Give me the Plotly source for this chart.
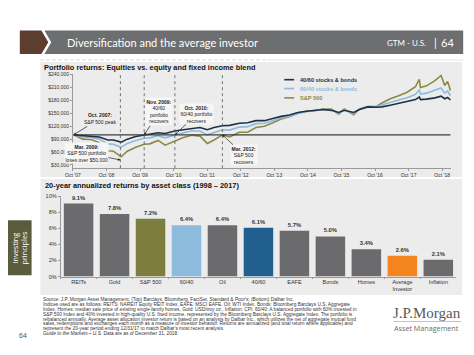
import plotly.graph_objects as go

W, H = 474, 355

# ---------------- Top chart data (values in $ thousands) ----------------
dates = ["2007-10-09", "2008-01-15", "2008-04-15", "2008-07-15", "2008-10-15", "2008-12-15",
         "2009-03-09", "2009-05-15", "2009-08-15", "2009-11-15", "2010-01-15", "2010-04-15",
         "2010-07-01", "2010-10-15", "2011-01-15", "2011-04-15", "2011-07-15", "2011-10-03",
         "2011-12-15", "2012-03-15", "2012-06-01", "2012-09-15", "2012-12-15", "2013-03-15",
         "2013-06-15", "2013-09-15", "2013-12-15", "2014-03-15", "2014-06-15", "2014-09-15",
         "2014-12-15", "2015-03-15", "2015-06-15", "2015-09-01", "2015-11-01", "2016-02-11",
         "2016-04-15", "2016-07-15", "2016-10-15", "2016-12-15", "2017-03-15", "2017-06-15",
         "2017-09-15", "2017-12-15", "2018-01-26", "2018-02-08", "2018-04-15", "2018-07-15",
         "2018-09-20", "2018-10-29", "2018-11-30", "2018-12-31"]
sp500 = [100, 90, 89, 82, 63, 62, 49, 62, 71, 78, 79, 87,
         76, 86, 94, 99, 97, 80, 88, 100, 95, 106, 106, 117,
         120, 128, 137, 142, 150, 155, 156, 160, 160, 148, 160, 147,
         160, 166, 166, 174, 184, 191, 199, 212, 229, 210, 214, 226,
         238, 215, 224, 203]
blend_60_40 = [100, 95, 94, 90, 79, 78, 71, 80, 87, 92, 93, 98,
               93, 100, 105, 109, 109, 100, 106, 112, 111, 118, 119, 126,
               127, 133, 139, 143, 150, 154, 156, 159, 158, 150, 158, 150,
               160, 166, 166, 170, 176, 181, 186, 194, 205, 195, 197, 203,
               209, 197, 202, 191]
blend_40_60 = [100, 98, 97, 95, 88, 88, 83, 90, 96, 100, 101, 105,
               103, 109, 112, 115, 117, 112, 117, 121, 122, 127, 128, 133,
               133, 138, 143, 146, 152, 155, 157, 159, 157, 152, 157, 152,
               159, 165, 164, 165, 169, 173, 177, 182, 188, 182, 183, 186,
               190, 184, 187, 181]
baseline_value = 100
x_tick_dates = ["2007-10-01", "2008-10-01", "2009-10-01", "2010-10-01", "2011-10-01", "2012-10-01",
                "2013-10-01", "2014-10-01", "2015-10-01", "2016-10-01", "2017-10-01", "2018-10-01"]
x_tick_labels = ["Oct '07", "Oct '08", "Oct '09", "Oct '10", "Oct '11", "Oct '12",
                 "Oct '13", "Oct '14", "Oct '15", "Oct '16", "Oct '17", "Oct '18"]
event_dates = ["2009-03-01", "2009-11-15", "2010-10-15", "2012-03-15"]
series_names = ["40/60 stocks & bonds", "60/40 stocks & bonds", "S&P 500"]

# ---------------- Bottom chart data ----------------
asset_classes = ["REITs", "Gold", "S&P 500", "60/40", "Oil", "40/60", "EAFE", "Bonds",
                 "Homes", "Average<br>Investor", "Inflation"]
annual_returns = [9.1, 7.8, 7.2, 6.4, 6.4, 6.1, 5.7, 5.0, 3.4, 2.6, 2.1]

GRAY = "#6b6b6d"
OLIVE = "#8a8a45"
OLIVE_BAR = "#7d7d3e"
LIGHT_BLUE = "#8dbbdd"
NAVY = "#1f2f48"
BLUE_BAR = "#215f8f"
ORANGE = "#f5861f"
bar_colors = [GRAY, GRAY, OLIVE_BAR, LIGHT_BLUE, GRAY, BLUE_BAR, GRAY, GRAY, GRAY, ORANGE, GRAY]

FONT = "Arial, Liberation Sans, sans-serif"
TXT = "#333333"


def px(x):
    return x / W


def py(y):
    return 1 - y / H


fig = go.Figure()

# lines
for vals, col in [(sp500, OLIVE), (blend_60_40, LIGHT_BLUE), (blend_40_60, NAVY)]:
    fig.add_trace(go.Scatter(x=dates, y=vals, mode="lines", line=dict(color=col, width=1.6),
                             xaxis="x", yaxis="y", showlegend=False, hoverinfo="skip"))
fig.add_trace(go.Scatter(x=[dates[0], dates[-1]], y=[baseline_value, baseline_value], mode="lines",
                         line=dict(color="#3a3a3a", width=1.2), xaxis="x", yaxis="y",
                         showlegend=False, hoverinfo="skip"))

# bars
fig.add_trace(go.Bar(x=asset_classes, y=annual_returns, marker=dict(color=bar_colors, line=dict(width=0)),
                     texttemplate="<b>%{y:.1f}%</b>", textposition="outside",
                     textfont=dict(size=5.8, color=TXT, family=FONT), cliponaxis=False,
                     xaxis="x2", yaxis="y2", showlegend=False, hoverinfo="skip"))

shapes = []
# header
shapes.append(dict(type="path", xref="paper", yref="paper",
                   path=f"M{px(12)},{py(28)} L{px(34)},{py(28)} L{px(41)},{py(40)} L{px(34)},{py(52)} L{px(12)},{py(52)} Z",
                   fillcolor="#5c3d2e", line=dict(width=0)))
shapes.append(dict(type="path", xref="paper", yref="paper",
                   path=f"M{px(37)},{py(28)} L{px(463)},{py(28)} L{px(463)},{py(52)} L{px(37)},{py(52)} L{px(44)},{py(40)} Z",
                   fillcolor="#6d6e70", line=dict(width=0)))
shapes.append(dict(type="line", xref="paper", yref="paper", x0=px(33), x1=px(263), y0=py(58), y1=py(58),
                   line=dict(color="#cfcfcf", width=1.2, dash="dot")))
shapes.append(dict(type="line", xref="paper", yref="paper", x0=px(263), x1=px(463), y0=py(58), y1=py(58),
                   line=dict(color="#e6e6e6", width=1.2)))
# panels
shapes.append(dict(type="rect", xref="paper", yref="paper", x0=px(33), x1=px(462), y0=py(177), y1=py(60),
                   fillcolor="#ececec", line=dict(width=0), layer="below"))
shapes.append(dict(type="rect", xref="paper", yref="paper", x0=px(33), x1=px(462), y0=py(297), y1=py(179),
                   fillcolor="#ececec", line=dict(width=0), layer="below"))
# sidebar
shapes.append(dict(type="rect", xref="paper", yref="paper", x0=0, x1=px(24), y0=py(277), y1=py(221),
                   fillcolor="#5b5c3d", line=dict(width=0)))
# event lines
for d in event_dates:
    shapes.append(dict(type="line", xref="x", yref="y domain", x0=d, x1=d, y0=0, y1=1,
                       line=dict(color="#555555", width=0.8, dash="dot")))
# legend keys
leg_y = [78, 87, 96.5]
for yy, col in zip(leg_y, [NAVY, LIGHT_BLUE, OLIVE]):
    shapes.append(dict(type="line", xref="paper", yref="paper", x0=px(281), x1=px(291), y0=py(yy), y1=py(yy),
                       line=dict(color=col, width=1.6)))
# logo separator
shapes.append(dict(type="line", xref="paper", yref="paper", x0=px(392), x1=px(461), y0=py(324), y1=py(324),
                   line=dict(color="#9a9a9a", width=0.6)))

ann = []
ann.append(dict(x=px(58), y=py(40), xref="paper", yref="paper", xanchor="left", yanchor="middle", showarrow=False,
                text="Diversification and the average investor", font=dict(family="Lato, Open Sans, sans-serif", size=11, color="white")))
ann.append(dict(x=px(427), y=py(40.5), xref="paper", yref="paper", xanchor="right", yanchor="middle", showarrow=False,
                text="GTM - U.S.", font=dict(family="Lato, Open Sans, sans-serif", size=8, color="white")))
ann.append(dict(x=px(435), y=py(40), xref="paper", yref="paper", xanchor="center", yanchor="middle", showarrow=False,
                text="|", font=dict(family="Lato, Open Sans, sans-serif", size=11, color="white")))
ann.append(dict(x=px(456), y=py(40), xref="paper", yref="paper", xanchor="right", yanchor="middle", showarrow=False,
                text="64", font=dict(family="Lato, Open Sans, sans-serif", size=11, color="white")))
# panel titles
ann.append(dict(x=px(35), y=py(65.5), xref="paper", yref="paper", xanchor="left", yanchor="middle", showarrow=False,
                text="<b>Portfolio returns: Equities vs. equity and fixed income blend</b>",
                font=dict(family=FONT, size=7.4, color="#111111")))
ann.append(dict(x=px(36), y=py(186), xref="paper", yref="paper", xanchor="left", yanchor="middle", showarrow=False,
                text="<b>20-year annualized returns by asset class (1998 – 2017)</b>",
                font=dict(family=FONT, size=7.4, color="#111111")))
# legend texts
for yy, col, name in zip(leg_y, [NAVY, LIGHT_BLUE, OLIVE], series_names):
    ann.append(dict(x=px(295), y=py(yy), xref="paper", yref="paper", xanchor="left", yanchor="middle", showarrow=False,
                    text=f"<b>{name}</b>", font=dict(family=FONT, size=5.6, color=col)))

# chart call-outs
callouts = [
    ("2007-10-09", baseline_value, 26.5, -16.5, "<b>Oct. 2007:</b><br>S&P 500 peak", None),
    ("2009-03-01", 41.5, -34, -7, "<b>Mar. 2009:</b><br>S&P 500 portfolio<br>loses over $50,000", "#f6f6f6"),
    ("2009-11-15", baseline_value, 15, -23, "<b>Nov. 2009:</b><br>40/60<br>portfolio<br>recovers", "#f6f6f6"),
    ("2010-10-15", baseline_value, 22, -21, "<b>Oct. 2010:</b><br>60/40 portfolio<br>recovers", "#f6f6f6"),
    ("2012-03-15", baseline_value, 22, 20.5, "<b>Mar. 2012:</b><br>S&P 500<br>recovers", "#f6f6f6"),
]
for xd, yv, axp, ayp, t, bg in callouts:
    d = dict(x=xd, y=yv, xref="x", yref="y", ax=axp, ay=ayp, text=t, showarrow=True,
             arrowhead=2, arrowsize=0.7, arrowwidth=0.7, arrowcolor="#222222", standoff=0,
             font=dict(family=FONT, size=5, color="#222222"), align="center")
    if bg:
        d["bgcolor"] = bg
        d["borderpad"] = 0.5
    ann.append(d)

# footnotes
foot = [
    "Source: J.P. Morgan Asset Management; (Top) Barclays, Bloomberg, FactSet, Standard & Poor's; (Bottom) Dalbar Inc.",
    "Indices used are as follows: REITS: NAREIT Equity REIT Index, EAFE: MSCI EAFE, Oil: WTI Index, Bonds: Bloomberg Barclays U.S. Aggregate",
    "Index, Homes: median sale price of existing single-family homes, Gold: USD/troy oz., Inflation: CPI. 60/40: A balanced portfolio with 60% invested in",
    "S&P 500 Index and 40% invested in high-quality U.S. fixed income, represented by the Bloomberg Barclays U.S. Aggregate Index. The portfolio is",
    "rebalanced annually. Average asset allocation investor return is based on an analysis by Dalbar Inc., which utilizes the net of aggregate mutual fund",
    "sales, redemptions and exchanges each month as a measure of investor behavior. Returns are annualized (and total return where applicable) and",
    "represent the 20-year period ending 12/31/17 to match Dalbar's most recent analysis.",
    "<i>Guide to the Markets – U.S.</i> Data are as of December 31, 2018.",
]
for i, line in enumerate(foot):
    ann.append(dict(x=px(33.5), y=py(302 + i * 4.9), xref="paper", yref="paper", xanchor="left", yanchor="middle",
                    showarrow=False, text=line, font=dict(family=FONT, size=4.8, color="#333333")))
ann.append(dict(x=px(15), y=py(338), xref="paper", yref="paper", xanchor="center", yanchor="middle", showarrow=False,
                text="64", font=dict(family=FONT, size=7, color="#555555")))
ann.append(dict(x=px(426), y=py(315), xref="paper", yref="paper", xanchor="center", yanchor="middle", showarrow=False,
                text="J.P.Morgan", font=dict(family="Liberation Serif, DejaVu Serif, serif", size=15, color="#5a5a5a")))
ann.append(dict(x=px(426), y=py(331), xref="paper", yref="paper", xanchor="center", yanchor="middle", showarrow=False,
                text="Asset Management", font=dict(family="Open Sans, Lato, sans-serif", size=7.2, color="#6a6a6a")))
ann.append(dict(x=px(12), y=py(249), xref="paper", yref="paper", xanchor="center", yanchor="middle", showarrow=False,
                text="Investing<br>principles", textangle=-90,
                font=dict(family="Open Sans, Lato, sans-serif", size=7.3, color="white")))

axis_common = dict(showgrid=False, zeroline=False, showline=True, linecolor="#9a9a9a", linewidth=0.8,
                   ticks="outside", ticklen=2, tickwidth=0.6, tickcolor="#9a9a9a")

fig.update_layout(
    width=W, height=H, margin=dict(l=0, r=0, t=0, b=0),
    paper_bgcolor="white", plot_bgcolor="rgba(0,0,0,0)",
    font=dict(family=FONT, color=TXT),
    bargap=0.18,
    xaxis=dict(domain=[px(66), px(451)], anchor="y", type="date", range=["2007-10-01", "2019-01-10"],
               tickvals=x_tick_dates, ticktext=x_tick_labels, tickfont=dict(size=5, color=TXT), **axis_common),
    yaxis=dict(domain=[py(168), py(72)], anchor="x", range=[22.5, 242], tick0=30, dtick=30,
               tickprefix="$", ticksuffix=",000", tickfont=dict(size=5, color=TXT), **axis_common),
    xaxis2=dict(domain=[px(53.5), px(456)], anchor="y2", type="category", tickson="boundaries",
                tickfont=dict(size=5.5, color=TXT), **axis_common),
    yaxis2=dict(domain=[py(278.3), py(196.7)], anchor="x2", range=[0, 10], dtick=2, ticksuffix="%",
                tickfont=dict(size=5.5, color=TXT), **axis_common),
    shapes=shapes, annotations=ann,
)

fig.write_html("out.html", config={"displayModeBar": False},
               post_script="document.body.style.margin='0px';document.body.style.overflow='hidden';")
